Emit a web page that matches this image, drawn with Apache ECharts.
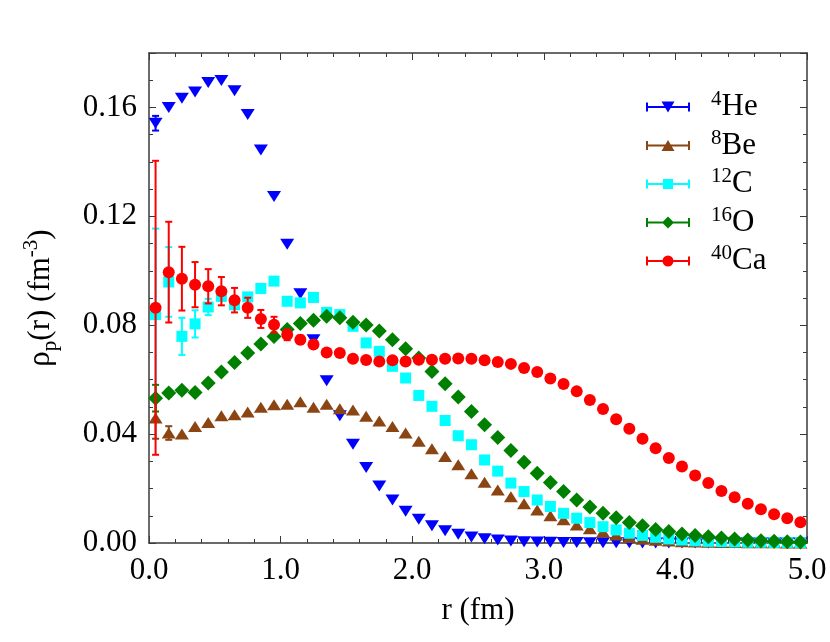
<!DOCTYPE html>
<html>
<head>
<meta charset="utf-8">
<script src="https://cdn.jsdelivr.net/npm/echarts@6/dist/echarts.min.js"></script>
<style>
  html, body { margin: 0; padding: 0; background: #fff; }
  #chart { width: 830px; height: 642px; }
</style>
</head>
<body>
<div id="chart"></div>
<script>
// radii (fm)
var r = [0.05, 0.15, 0.25, 0.35, 0.45, 0.55, 0.65, 0.75, 0.85, 0.95,
         1.05, 1.15, 1.25, 1.35, 1.45, 1.55, 1.65, 1.75, 1.85, 1.95,
         2.05, 2.15, 2.25, 2.35, 2.45, 2.55, 2.65, 2.75, 2.85, 2.95,
         3.05, 3.15, 3.25, 3.35, 3.45, 3.55, 3.65, 3.75, 3.85, 3.95,
         4.05, 4.15, 4.25, 4.35, 4.45, 4.55, 4.65, 4.75, 4.85, 4.95];

// proton densities rho_p(r) (fm^-3)
var he4 = [0.1542, 0.1600, 0.1634, 0.1657, 0.1692, 0.1699, 0.1661, 0.1574, 0.1444, 0.1273,
           0.1097, 0.0916, 0.0747, 0.0596, 0.0467, 0.0363, 0.0277, 0.0209, 0.0158, 0.0117,
           0.0087, 0.0063, 0.0045, 0.0032, 0.0022, 0.0016, 0.0011, 0.0007, 0.0005, 0.0004,
           0.0003, 0.0002, 0.0002, 0.0001, 0.0001, 0.0001, 0.0001, 0, 0, 0,
           0, 0, 0, 0, 0, 0, 0, 0, 0, 0];
var be8 = [0.0459, 0.0404, 0.0400, 0.0428, 0.0443, 0.0467, 0.0471, 0.0481, 0.0499, 0.0508,
           0.0510, 0.0519, 0.0499, 0.0510, 0.0493, 0.0489, 0.0466, 0.0448, 0.0428, 0.0404,
           0.0374, 0.0346, 0.0318, 0.0287, 0.0254, 0.0223, 0.0195, 0.0170, 0.0144, 0.0121,
           0.0100, 0.0085, 0.0066, 0.0052, 0.0040, 0.0029, 0.0020, 0.0014, 0.0010, 0.0007,
           0.0005, 0.0004, 0.0003, 0.0002, 0.0002, 0.0001, 0.0001, 0.0001, 0, 0];
var c12 = [0.0839, 0.0959, 0.0759, 0.0805, 0.0867, 0.0906, 0.0875, 0.0904, 0.0935, 0.0962,
           0.0888, 0.0882, 0.0902, 0.0847, 0.0839, 0.0796, 0.0735, 0.0704, 0.0649, 0.0606,
           0.0542, 0.0502, 0.0450, 0.0394, 0.0361, 0.0305, 0.0264, 0.0220, 0.0189, 0.0158,
           0.0134, 0.0109, 0.0091, 0.0075, 0.0060, 0.0048, 0.0036, 0.0028, 0.0021, 0.0015,
           0.0011, 0.0008, 0.0006, 0.0005, 0.0004, 0.0003, 0.0003, 0.0002, 0.0002, 0.0001];
var o16 = [0.0532, 0.0551, 0.0561, 0.0553, 0.0588, 0.0628, 0.0663, 0.0698, 0.0731, 0.0759,
           0.0784, 0.0806, 0.0818, 0.0833, 0.0827, 0.0811, 0.0801, 0.0779, 0.0747, 0.0714,
           0.0680, 0.0630, 0.0585, 0.0536, 0.0483, 0.0434, 0.0388, 0.0340, 0.0297, 0.0256,
           0.0222, 0.0189, 0.0158, 0.0132, 0.0109, 0.0093, 0.0075, 0.0063, 0.0050, 0.0042,
           0.0033, 0.0028, 0.0023, 0.0018, 0.0015, 0.0011, 0.0008, 0.0006, 0.0005, 0.0004];
var ca40 = [0.0864, 0.0995, 0.0971, 0.0949, 0.0943, 0.0925, 0.0892, 0.0864, 0.0823, 0.0802,
            0.0765, 0.0747, 0.0729, 0.0700, 0.0698, 0.0677, 0.0672, 0.0667, 0.0671, 0.0667,
            0.0673, 0.0673, 0.0677, 0.0678, 0.0677, 0.0671, 0.0665, 0.0658, 0.0643, 0.0628,
            0.0604, 0.0584, 0.0557, 0.0525, 0.0492, 0.0455, 0.0420, 0.0383, 0.0348, 0.0312,
            0.0281, 0.0248, 0.0220, 0.0191, 0.0168, 0.0144, 0.0124, 0.0106, 0.0091, 0.0076];

// statistical errors (first points only, rest negligible)
var he4Err = [0.0027];
var be8Err = [0.0076, 0.0025];
var c12Err = [0.0316, 0.0128, 0.0068, 0.0050, 0.0030, 0.0015];
var o16Err = [0.0049, 0.0012];
var ca40Err = [0.0540, 0.0185, 0.0117, 0.0083, 0.0063, 0.0052, 0.0045, 0.0037, 0.0033, 0.0029, 0.0020, 0.0015, 0.0010];

var FONT = 'Liberation Serif';
var AXIS_COLOR = '#3a3a3a';

// legend icons: line with error caps and the marker in the middle
var caps = 'M0,0 h0.01 v14 h-0.01 Z M0,6 h44 v2 h-44 Z M0,2.5 h2 v9 h-2 Z M42,2.5 h2 v9 h-2 Z ';
var icons = {
  down: 'path://' + caps + 'M15.5,1.5 L28.5,1.5 L22,12.5 Z',
  up: 'path://' + caps + 'M22,1.5 L28.5,12.5 L15.5,12.5 Z',
  square: 'path://' + caps + 'M17,2 h10 v10 h-10 Z',
  diamond: 'path://' + caps + 'M22,1 L28,7 L22,13 L16,7 Z',
  circle: 'path://' + caps + 'M16.5,7 A5.5,5.5 0 1,1 27.5,7 A5.5,5.5 0 1,1 16.5,7 Z'
};

function errorBars(color) {
  return function (params, api) {
    var lo = api.coord([api.value(0), api.value(1)]);
    var hi = api.coord([api.value(0), api.value(2)]);
    var w = 3.5;
    var st = { stroke: color, lineWidth: 2 };
    return {
      type: 'group',
      children: [
        { type: 'line', shape: { x1: lo[0], y1: lo[1], x2: hi[0], y2: hi[1] }, style: st },
        { type: 'line', shape: { x1: lo[0] - w, y1: lo[1], x2: lo[0] + w, y2: lo[1] }, style: st },
        { type: 'line', shape: { x1: hi[0] - w, y1: hi[1], x2: hi[0] + w, y2: hi[1] }, style: st }
      ]
    };
  };
}

function nucleus(name, color, symbol, rotate, size, vals, errs, z) {
  var pts = r.map(function (x, i) { return [x, vals[i]]; });
  var bars = errs.map(function (e, i) { return [r[i], vals[i] - e, vals[i] + e]; });
  return [{
    name: name,
    type: 'custom',
    renderItem: errorBars(color),
    encode: { x: 0, y: [1, 2] },
    itemStyle: { color: color },
    data: bars,
    z: z,
    silent: true
  }, {
    name: name,
    type: 'scatter',
    symbol: symbol,
    symbolRotate: rotate,
    symbolSize: size,
    itemStyle: { color: color, opacity: 1 },
    data: pts,
    z: z
  }];
}

var series = [].concat(
  nucleus('4He', '#0000ff', 'triangle', 180, [14, 11], he4, he4Err, 2),
  nucleus('8Be', '#8b4513', 'triangle', 0, [14, 11], be8, be8Err, 3),
  nucleus('12C', '#00ffff', 'rect', 0, [11, 11], c12, c12Err, 4),
  nucleus('16O', '#008000', 'diamond', 0, [15, 15], o16, o16Err, 5),
  nucleus('40Ca', '#ff0000', 'circle', 0, 12, ca40, ca40Err, 6)
);

var chart = echarts.init(document.getElementById('chart'));

var axisBase = {
  axisLine: { show: true, onZero: false, lineStyle: { color: AXIS_COLOR, width: 1.5 } },
  axisTick: { show: true, inside: true, length: 7, lineStyle: { color: AXIS_COLOR, width: 1 } },
  minorTick: { show: true, length: 4, lineStyle: { color: AXIS_COLOR, width: 1 } },
  splitLine: { show: false }
};

chart.setOption({
  backgroundColor: '#fff',
  animation: false,
  textStyle: { fontFamily: FONT },
  grid: { left: 149, right: 23, top: 53, bottom: 99 },
  legend: {
    orient: 'vertical',
    left: 641,
    top: 84,
    itemWidth: 44,
    itemHeight: 14,
    itemGap: 5,
    selectedMode: false,
    data: [
      { name: '4He', icon: icons.down, itemStyle: { color: '#0000ff' } },
      { name: '8Be', icon: icons.up, itemStyle: { color: '#8b4513' } },
      { name: '12C', icon: icons.square, itemStyle: { color: '#00ffff' } },
      { name: '16O', icon: icons.diamond, itemStyle: { color: '#008000' } },
      { name: '40Ca', icon: icons.circle, itemStyle: { color: '#ff0000' } }
    ],
    formatter: function (name) {
      var m = name.match(/^(\d+)(.*)$/);
      return '{s|' + m[1] + '}{n|' + m[2] + '}';
    },
    textStyle: {
      padding: [0, 0, 0, 16],
      rich: {
        s: { fontFamily: FONT, fontSize: 21, color: '#000', verticalAlign: 'top', lineHeight: 20 },
        n: { fontFamily: FONT, fontSize: 31, color: '#000', lineHeight: 36 }
      }
    }
  },
  xAxis: [Object.assign({}, axisBase, {
    type: 'value',
    min: 0,
    max: 5,
    interval: 1,
    position: 'bottom',
    minorTick: Object.assign({}, axisBase.minorTick, { splitNumber: 5 }),
    axisLabel: {
      margin: 12,
      fontFamily: FONT,
      fontSize: 31,
      color: '#000',
      formatter: function (v) { return v.toFixed(1); }
    },
    name: 'r (fm)',
    nameLocation: 'middle',
    nameGap: 52,
    nameTextStyle: { fontFamily: FONT, fontSize: 31, color: '#000' }
  }), Object.assign({}, axisBase, {
    type: 'value',
    min: 0,
    max: 5,
    interval: 1,
    position: 'top',
    minorTick: Object.assign({}, axisBase.minorTick, { splitNumber: 5 }),
    axisLabel: { show: false }
  })],
  yAxis: [Object.assign({}, axisBase, {
    type: 'value',
    min: 0,
    max: 0.18,
    interval: 0.04,
    position: 'left',
    minorTick: Object.assign({}, axisBase.minorTick, { splitNumber: 4 }),
    axisLabel: {
      margin: 12,
      showMaxLabel: false,
      fontFamily: FONT,
      fontSize: 31,
      color: '#000',
      formatter: function (v) { return v.toFixed(2); }
    },
    name: '{n|\u03c1}{sub|p}{n|(r) (fm}{sup|-3}{n|)}',
    nameLocation: 'middle',
    nameRotate: 90,
    nameGap: 88,
    nameTextStyle: {
      rich: {
        n: { fontFamily: FONT, fontSize: 31, color: '#000', lineHeight: 40 },
        sub: { fontFamily: FONT, fontSize: 21, color: '#000', verticalAlign: 'bottom', lineHeight: 20 },
        sup: { fontFamily: FONT, fontSize: 21, color: '#000', verticalAlign: 'top', lineHeight: 20 }
      }
    }
  }), Object.assign({}, axisBase, {
    type: 'value',
    min: 0,
    max: 0.18,
    interval: 0.04,
    position: 'right',
    minorTick: Object.assign({}, axisBase.minorTick, { splitNumber: 4 }),
    axisLabel: { show: false }
  })],
  series: series
});
</script>
</body>
</html>
